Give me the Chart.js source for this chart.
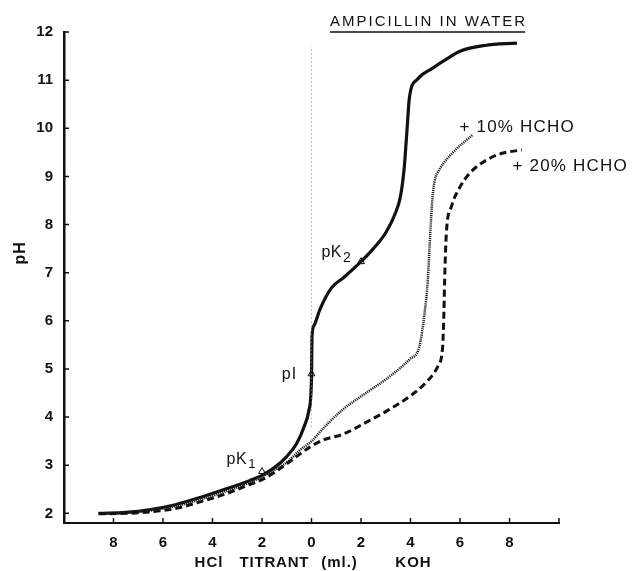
<!DOCTYPE html>
<html>
<head>
<meta charset="utf-8">
<script src="https://cdn.jsdelivr.net/npm/chart.js@4/dist/chart.umd.min.js"></script>
<style>
  body { margin: 0; background: #fff; }
  #wrap { width: 633px; height: 571px; }
</style>
</head>
<body>
<div id="wrap"><canvas id="titration" width="633" height="571"></canvas></div>
<script>
// ml of titrant: negative = HCl side, positive = KOH side
const waterX = [-8.6, -7.5, -6.5, -5.5, -4.5, -3.5, -2.5, -2, -1.5, -1, -0.6, -0.3, -0.1, 0, 0.02, 0.1, 0.35, 0.8, 1.3, 2, 2.5, 3, 3.4, 3.6, 3.75, 3.85, 3.96, 4.28, 4.9, 5.5, 6, 7, 8.3];
const waterPH = [2.0, 2.02, 2.08, 2.18, 2.33, 2.5, 2.68, 2.79, 2.95, 3.18, 3.45, 3.8, 4.15, 4.8, 5.67, 5.9, 6.25, 6.68, 6.9, 7.23, 7.5, 7.83, 8.25, 8.6, 9.2, 9.9, 10.65, 11.02, 11.25, 11.45, 11.6, 11.72, 11.77];

const hcho10X = [-8.6, -7.5, -6.5, -5.5, -4.5, -3.5, -2.5, -2, -1.5, -1, -0.5, 0, 0.5, 1.25, 2.2, 3.15, 3.96, 4.36, 4.57, 4.7, 4.8, 4.88, 4.97, 5.17, 5.7, 6.5];
const hcho10PH = [2.0, 2.01, 2.06, 2.15, 2.29, 2.45, 2.64, 2.76, 2.9, 3.06, 3.3, 3.5, 3.78, 4.15, 4.5, 4.84, 5.2, 5.47, 6.17, 6.85, 7.83, 8.5, 8.89, 9.14, 9.49, 9.86];

const hcho20X = [-8.6, -7.5, -6.5, -5.5, -4.5, -3.5, -2.5, -2, -1.5, -1, -0.5, 0, 0.5, 1.25, 2.2, 3.15, 3.96, 4.63, 5.1, 5.3, 5.35, 5.38, 5.45, 5.65, 6.0, 6.4, 7.07, 7.7, 8.5];
const hcho20PH = [1.99, 2.0, 2.03, 2.1, 2.24, 2.4, 2.6, 2.7, 2.85, 3.03, 3.22, 3.4, 3.53, 3.64, 3.89, 4.16, 4.43, 4.72, 5.05, 5.47, 6.17, 6.85, 7.83, 8.37, 8.78, 9.07, 9.34, 9.48, 9.55];

// pK1, pI, pK2 markers
const markX = [-2, 0, 2];
const markPH = [2.87, 4.9, 7.23];

// zero line
const zeroX = [0, 0];
const zeroPH = [3.8, 11.7];

const xTicks = [-8, -6, -4, -2, 0, 2, 4, 6, 8];
const yTicks = [2, 3, 4, 5, 6, 7, 8, 9, 10, 11, 12];

const pts = (xs, ys) => xs.map((x, i) => ({ x: x, y: ys[i] }));

const FONT = '"Liberation Sans", Arial, sans-serif';

function text(ctx, s, x, y, size, weight, align, spacing) {
  ctx.save();
  ctx.font = weight + ' ' + size + 'px ' + FONT;
  ctx.letterSpacing = (spacing || 0) + 'px';
  ctx.textAlign = align || 'left';
  ctx.textBaseline = 'middle';
  ctx.fillStyle = '#111';
  ctx.fillText(s, x, y);
  const w = ctx.measureText(s).width;
  ctx.restore();
  return w;
}

const decor = {
  id: 'decor',
  afterDraw(c) {
    const ctx = c.ctx, xs = c.scales.x, ys = c.scales.y, a = c.chartArea;
    ctx.save();
    ctx.strokeStyle = '#111';
    ctx.lineWidth = 1.5;
    // inward ticks
    ctx.beginPath();
    yTicks.forEach(v => {
      const y = ys.getPixelForValue(v);
      ctx.moveTo(a.left, y); ctx.lineTo(a.left + 5, y);
    });
    xTicks.concat([10]).forEach(v => {
      const x = xs.getPixelForValue(v);
      ctx.moveTo(x, a.bottom); ctx.lineTo(x, a.bottom - 5);
    });
    ctx.stroke();
    ctx.restore();

    // title
    const tx = xs.getPixelForValue(4.73), ty = ys.getPixelForValue(12.21);
    const w = text(ctx, 'AMPICILLIN IN WATER', tx, ty, 15, 'normal', 'center', 2);
    ctx.save();
    ctx.strokeStyle = '#111';
    ctx.lineWidth = 1.5;
    ctx.beginPath();
    ctx.moveTo(tx - w / 2, ty + 10); ctx.lineTo(tx + w / 2 - 2, ty + 10);
    ctx.stroke();
    ctx.restore();

    // point labels
    let px = xs.getPixelForValue(-3.43), py = ys.getPixelForValue(3.12);
    let pw = text(ctx, 'pK', px, py, 16, 'normal', 'left', 0.5);
    text(ctx, '1', px + pw + 1, py + 5, 13, 'normal', 'left');
    text(ctx, 'pI', xs.getPixelForValue(-0.89), ys.getPixelForValue(4.88), 16, 'normal', 'center', 1);
    px = xs.getPixelForValue(0.4); py = ys.getPixelForValue(7.41);
    pw = text(ctx, 'pK', px, py, 16, 'normal', 'left', 0.5);
    text(ctx, '2', px + pw + 1, py + 5, 14, 'normal', 'left');

    text(ctx, '+ 10% HCHO', xs.getPixelForValue(5.98), ys.getPixelForValue(10.03), 17, 'normal', 'left', 1.2);
    text(ctx, '+ 20% HCHO', xs.getPixelForValue(8.12), ys.getPixelForValue(9.2), 17, 'normal', 'left', 1.2);

    // axis titles
    const by = a.bottom + 40;
    text(ctx, 'HCl', xs.getPixelForValue(-4.14), by, 15, 'bold', 'center', 1);
    text(ctx, 'TITRANT', xs.getPixelForValue(-1.5), by, 15, 'bold', 'center', 0.8);
    text(ctx, '(ml.)', xs.getPixelForValue(1.13), by, 15, 'bold', 'center', 1);
    text(ctx, 'KOH', xs.getPixelForValue(4.12), by, 15, 'bold', 'center', 1);

    ctx.save();
    ctx.translate(21, ys.getPixelForValue(7.41));
    ctx.rotate(-Math.PI / 2);
    text(ctx, 'pH', 0, 0, 16, 'bold', 'center', 1);
    ctx.restore();
  }
};

new Chart(document.getElementById('titration'), {
  type: 'line',
  data: {
    datasets: [
      { data: pts(zeroX, zeroPH), borderColor: '#888', borderWidth: 1, borderDash: [1, 3], tension: 0, pointRadius: 0 },
      { data: pts(hcho20X, hcho20PH), borderColor: '#111', borderWidth: 3, borderDash: [7, 4], cubicInterpolationMode: 'monotone', pointRadius: 0 },
      { data: pts(hcho10X, hcho10PH), borderColor: '#222', borderWidth: 2.5, borderDash: [1.2, 0.9], cubicInterpolationMode: 'monotone', pointRadius: 0 },
      { data: pts(waterX, waterPH), borderColor: '#111', borderWidth: 3.2, cubicInterpolationMode: 'monotone', pointRadius: 0 },
      { data: pts(markX, markPH), showLine: false, pointStyle: 'triangle', pointRadius: 4, pointBorderWidth: 1,
        pointBorderColor: '#111', pointBackgroundColor: '#fff' }
    ]
  },
  options: {
    responsive: false,
    animation: false,
    layout: { padding: { top: 32, right: 74, left: 0, bottom: 0 } },
    plugins: { legend: { display: false }, tooltip: { enabled: false } },
    scales: {
      x: {
        type: 'linear', min: -10, max: 10,
        afterBuildTicks: s => { s.ticks = xTicks.map(v => ({ value: v })); },
        afterFit: s => { s.height = 48; },
        grid: { display: false, drawTicks: false },
        border: { color: '#111', width: 2 },
        ticks: { padding: 11, color: '#111', font: { family: FONT, size: 15, weight: 'bold' }, callback: v => Math.abs(v) }
      },
      y: {
        min: 1.8, max: 12,
        afterBuildTicks: s => { s.ticks = yTicks.map(v => ({ value: v })); },
        afterFit: s => { s.width = 64; },
        grid: { display: false, drawTicks: false },
        border: { color: '#111', width: 2.5 },
        ticks: { padding: 11, color: '#111', font: { family: FONT, size: 15, weight: 'bold' } }
      }
    }
  },
  plugins: [decor]
});
</script>
</body>
</html>
